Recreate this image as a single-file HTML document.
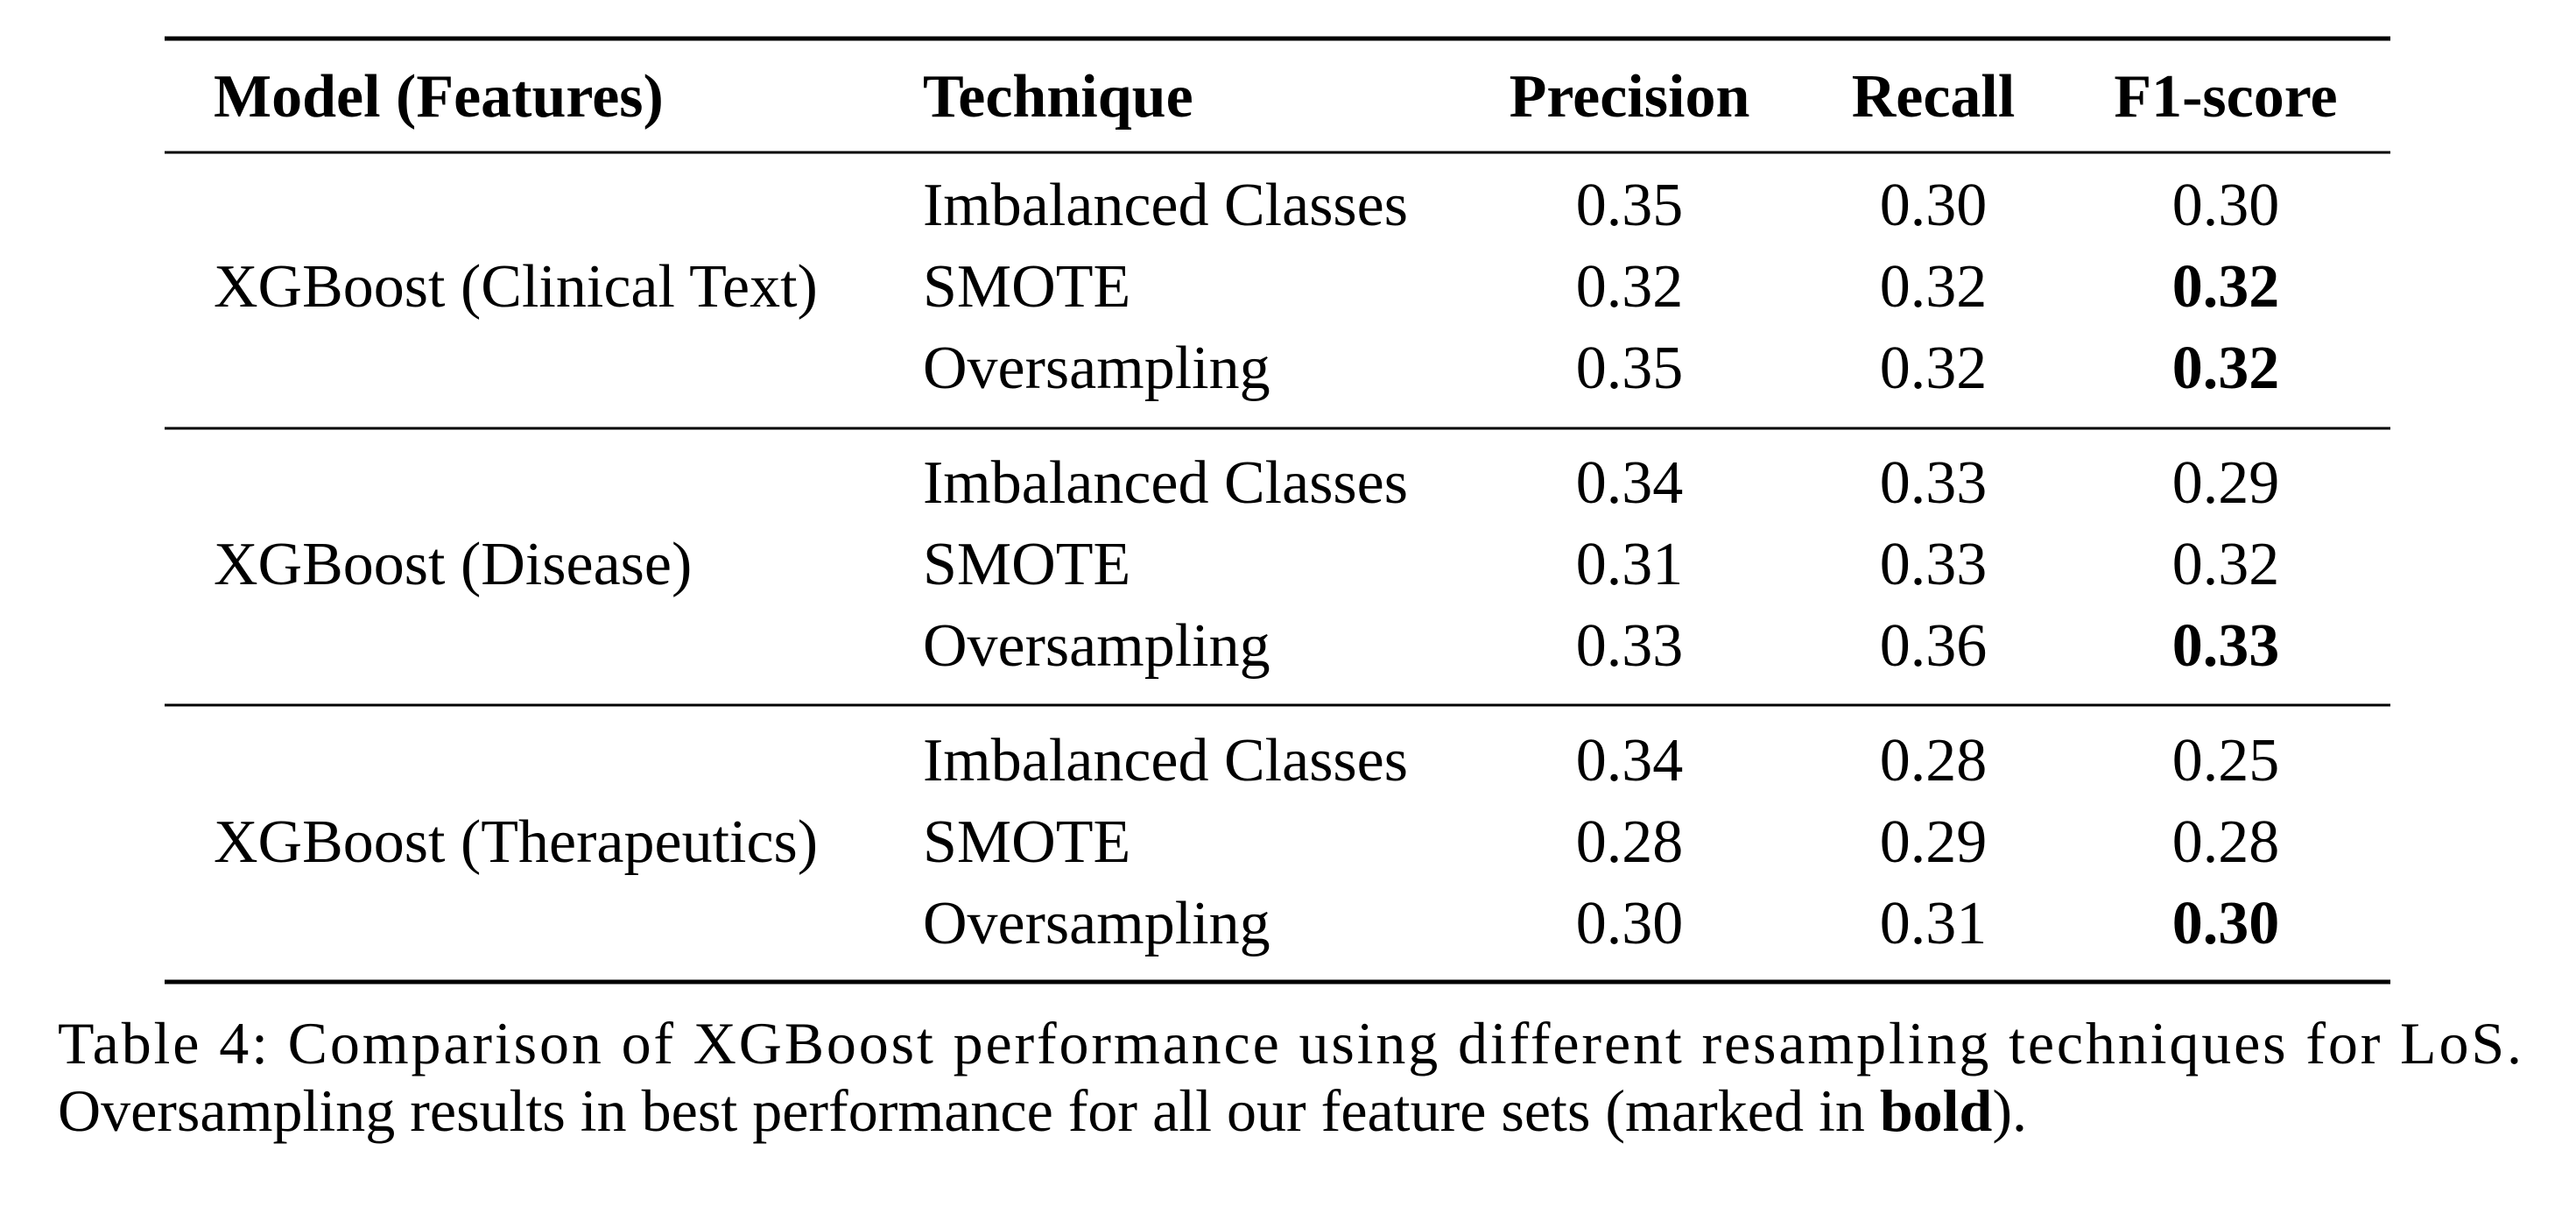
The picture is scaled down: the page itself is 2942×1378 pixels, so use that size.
<!DOCTYPE html>
<html><head><meta charset="utf-8"><style>
html,body{margin:0;padding:0;background:#fff;}
svg{display:block;font-family:"Liberation Serif",serif;}
</style></head><body>
<svg width="2942" height="1378" viewBox="0 0 2942 1378">
<rect x="0" y="0" width="2942" height="1378" fill="#fff"/>
<g id="rules"></g>
<g id="cells" font-size="70" fill="#000"></g>
<g font-size="68" fill="#000">
<text x="66" y="1214" textLength="2814" lengthAdjust="spacing">Table 4:  Comparison of XGBoost performance using different resampling techniques for LoS.</text>
<text x="66" y="1291">Oversampling results in best performance for all our feature sets (marked in <tspan font-weight="bold">bold</tspan>).</text>
</g>
</svg>
<script>
const headers=["Model (Features)","Technique","Precision","Recall","F1-score"];
const models=["XGBoost (Clinical Text)","XGBoost (Disease)","XGBoost (Therapeutics)"];
const techniques=["Imbalanced Classes","SMOTE","Oversampling"];
const precision=[[0.35,0.32,0.35],[0.34,0.31,0.33],[0.34,0.28,0.30]];
const recall=[[0.30,0.32,0.32],[0.33,0.33,0.36],[0.28,0.29,0.31]];
const f1=[[0.30,0.32,0.32],[0.29,0.32,0.33],[0.25,0.28,0.30]];
const boldF1=[[false,true,true],[false,false,true],[false,false,true]];

const NS="http://www.w3.org/2000/svg";
const rules=document.getElementById('rules');
const cells=document.getElementById('cells');
function line(y,w,name){
  const l=document.createElementNS(NS,'line');
  l.setAttribute('x1',188);l.setAttribute('x2',2730);
  l.setAttribute('y1',y);l.setAttribute('y2',y);
  l.setAttribute('stroke','#000');l.setAttribute('stroke-width',w);
  
  
  rules.appendChild(l);
}
line(44,5,'top-rule');
line(174,3,'header-rule');
line(489,3,'group-rule-1');
line(805,3,'group-rule-2');
line(1121,5,'bottom-rule');
function txt(s,x,y,anchor,bold,name){
  const t=document.createElementNS(NS,'text');
  t.setAttribute('x',x);t.setAttribute('y',y);
  if(anchor)t.setAttribute('text-anchor',anchor);
  if(bold)t.setAttribute('font-weight','bold');
  t.textContent=s;
  
  
  cells.appendChild(t);
}
const colX=[244,1054,1861,2208,2542];
headers.forEach((h,i)=>txt(h,colX[i],133,i>=2?'middle':null,true,'header-'+h.toLowerCase().replace(/[^a-z0-9]+/g,'-')));
models.forEach((m,g)=>{
  const base=257+g*317;
  txt(m,colX[0],base+93,null,false,'model-label');
  techniques.forEach((t,r)=>{
    const y=base+r*93;
    txt(t,colX[1],y,null,false,'technique-cell');
    txt(precision[g][r].toFixed(2),colX[2],y,'middle',false,'precision-cell');
    txt(recall[g][r].toFixed(2),colX[3],y,'middle',false,'recall-cell');
    txt(f1[g][r].toFixed(2),colX[4],y,'middle',boldF1[g][r],'f1-cell');
  });
});
</script>
</body></html>
